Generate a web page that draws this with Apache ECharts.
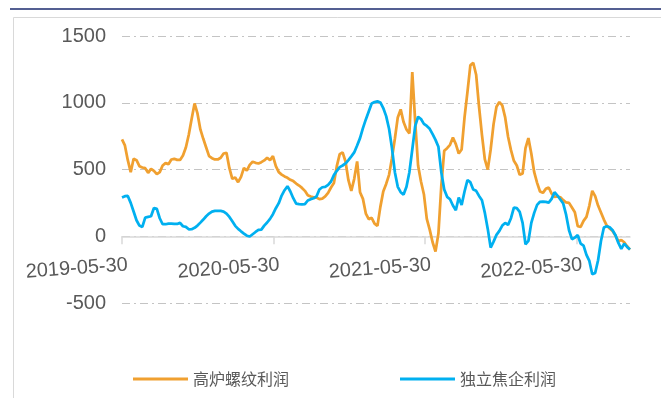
<!DOCTYPE html>
<html>
<head>
<meta charset="utf-8">
<script src="https://cdn.jsdelivr.net/npm/echarts@6/dist/echarts.min.js"></script>
<style>
  html, body { margin: 0; padding: 0; background: #fff; }
  #chart { width: 661px; height: 398px; }
</style>
</head>
<body>
<div id="chart"></div>
<script>
// weekly points starting from this date
const startDate = '2019-05-30';
const tickLabels = ['2019-05-30', '2020-05-30', '2021-05-30', '2022-05-30'];
const seriesNames = ['高炉螺纹利润', '独立焦企利润'];

// 高炉螺纹利润
const furnaceProfit = [
  725, 680, 570, 480, 580, 570, 525, 515, 510, 475,
  505, 490, 465, 480, 530, 548, 540, 575, 580, 572,
  572, 605, 665, 760, 880, 995, 920, 800, 730, 665,
  600, 585, 575, 575, 588, 620, 625, 510, 430, 440,
  405, 445, 512, 492, 535, 558, 550, 545, 555, 568,
  588, 570, 600, 525, 480, 462, 448, 438, 423, 413,
  395, 380, 362, 340, 307, 298, 291, 290, 278, 282,
  298, 325, 365, 398, 525, 615, 628, 560, 420, 340,
  430, 560, 330, 280, 170, 128, 138, 95, 78, 220,
  335, 392, 460, 585, 730, 890, 950, 855, 800, 770,
  1230, 860, 530, 410, 315, 130, 50, -45, -115, 20,
  380, 640, 660, 685, 740, 690, 620, 650, 890, 1080,
  1280, 1300, 1210, 970, 760, 575, 500, 650, 840, 970,
  1005, 980, 890, 745, 645, 565, 530, 460, 470, 660,
  735, 620, 480, 400, 335, 325, 355, 365, 320, 295,
  298, 292, 270, 253, 250, 215, 180, 75, 70, 115,
  145, 230, 340, 300, 230, 178, 125, 80, 58, 40,
  5, -38, -28, -45, -75, -100
];

// 独立焦企利润
const cokeProfit = [
  290, 300, 302, 250, 185, 120, 80, 70, 140, 145,
  150, 212, 205, 135, 90, 90, 95, 95, 92, 92,
  100, 75, 70, 52, 53, 63, 80, 102, 125, 150,
  170, 185, 190, 190, 190, 185, 170, 145, 112, 78,
  55, 37, 20, 4, -2, 15, 32, 47, 50, 80,
  103, 130, 165, 210, 248, 305, 345, 375, 335, 285,
  245, 240, 238, 240, 268, 278, 285, 298, 350, 367,
  370, 385, 410, 458, 490, 518, 530, 545, 570, 598,
  628, 680, 735, 810, 875, 935, 995, 1005, 1010, 1002,
  960, 900, 805, 660, 480, 370, 330, 312, 370, 480,
  650, 825, 895, 878, 842, 826, 805, 765, 722, 670,
  480, 350, 295, 277, 230, 195, 290, 235, 335, 420,
  405, 350, 340, 302, 270, 175, 55, -85, -40, 10,
  40, 80, 100, 85, 135, 215, 210, 182, 100, -60,
  -35, 100, 175, 235, 258, 260, 258, 252, 280, 330,
  305, 275, 245, 160, 45, -22, -10, 8, -55, -70,
  -140, -185, -285, -275, -180, -35, 65, 75, 67, 45,
  8, -50, -95, -55, -80, -100
];

const yMin = -500, yMax = 1500, yStep = 500;

const WEEK = 7 * 24 * 3600 * 1000;
const tickWeeks = tickLabels.map(d => (Date.parse(d) - Date.parse(startDate)) / WEEK);

const chart = echarts.init(document.getElementById('chart'));

const option = {
  animation: false,
  backgroundColor: '#fff',
  textStyle: { fontFamily: 'Liberation Sans, Noto Sans CJK SC, sans-serif' },
  graphic: [
    { type: 'line', shape: { x1: 10, y1: 9, x2: 661, y2: 9 }, style: { stroke: '#1b2a6e', lineWidth: 1.5 } },
    { type: 'rect', shape: { x: 13.5, y: 17.5, width: 700, height: 500 }, style: { fill: 'none', stroke: '#d9d9d9', lineWidth: 1 } }
  ],
  grid: { left: 122, right: 31, top: 36, bottom: 95 },
  legend: {
    left: 128,
    top: 366,
    icon: 'rect',
    itemWidth: 55,
    itemHeight: 3,
    itemGap: 111,
    textStyle: { fontSize: 16, color: '#595959', fontFamily: 'Noto Sans CJK SC' },
    data: seriesNames
  },
  xAxis: {
    type: 'value',
    min: 0,
    max: furnaceProfit.length - 1,
    splitLine: { show: false },
    axisLine: { onZero: true, lineStyle: { color: '#d9d9d9', width: 1.5 } },
    axisTick: { customValues: tickWeeks, length: 8, lineStyle: { color: '#d9d9d9', width: 1.5 } },
    axisLabel: {
      customValues: tickWeeks.map(w => w + 2),
      rotate: 4,
      margin: -38,
      fontSize: 20,
      color: '#595959',
      formatter: v => tickLabels[Math.round(v / 52.2)]
    }
  },
  yAxis: {
    type: 'value',
    min: yMin,
    max: yMax,
    interval: yStep,
    axisLine: { show: false },
    axisTick: { show: false },
    axisLabel: { fontSize: 20, color: '#595959', margin: 16, formatter: v => String(v) },
    splitLine: { lineStyle: { color: '#c4c4c4', width: 1, type: [8, 4, 2, 4] } }
  },
  series: [
    {
      name: seriesNames[0],
      type: 'line',
      symbol: 'none',
      data: furnaceProfit.map((v, i) => [i, v]),
      lineStyle: { color: '#f0a030', width: 2.75 },
      itemStyle: { color: '#f0a030' }
    },
    {
      name: seriesNames[1],
      type: 'line',
      symbol: 'none',
      data: cokeProfit.map((v, i) => [i, v]),
      lineStyle: { color: '#00b0f0', width: 2.75 },
      itemStyle: { color: '#00b0f0' }
    }
  ]
};

chart.setOption(option);
</script>
</body>
</html>
